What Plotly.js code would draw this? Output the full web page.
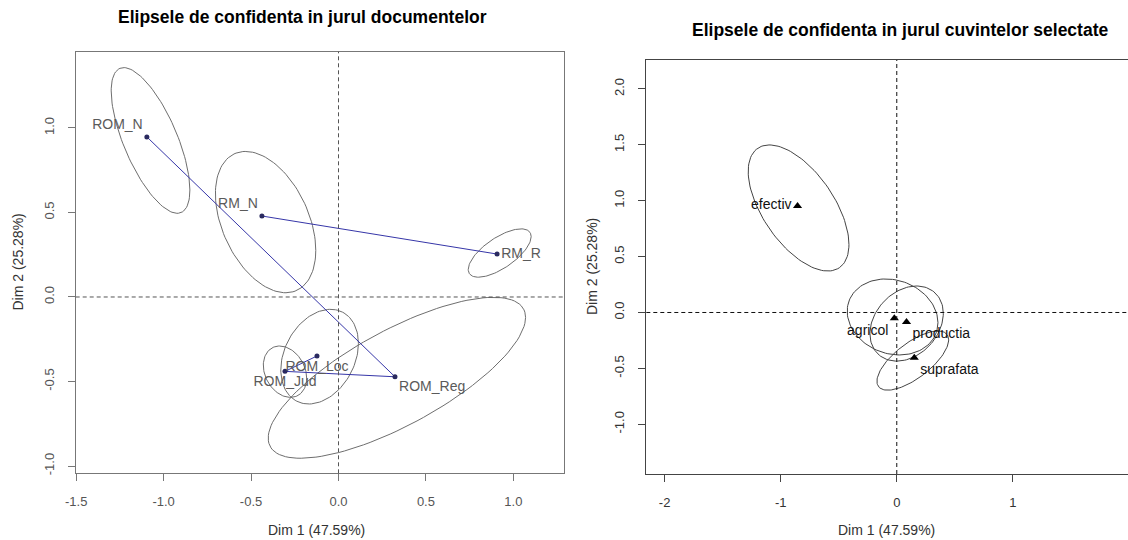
<!DOCTYPE html>
<html>
<head>
<meta charset="utf-8">
<script src="https://cdn.plot.ly/plotly-3.0.1.min.js"></script>
<style>html,body{margin:0;padding:0;background:#fff;}#chart{width:1128px;height:540px;}</style>
</head>
<body>
<div id="chart"></div>
<script>
// ---- Left panel: documents ----
const docLabels = ['ROM_N', 'RM_N', 'RM_R', 'ROM_Loc', 'ROM_Jud', 'ROM_Reg'];
const docX = [-1.096, -0.438, 0.907, -0.123, -0.306, 0.323];
const docY = [0.947, 0.479, 0.254, -0.349, -0.440, -0.472];
// confidence ellipses: centre, half horizontal extent, half vertical extent, correlation
const docEllCx = [-1.075, -0.417, 0.922, -0.108, -0.306, 0.334];
const docEllCy = [0.926, 0.443, 0.260, -0.353, -0.442, -0.478];
const docEllA = [0.225, 0.287, 0.180, 0.222, 0.124, 0.736];
const docEllB = [0.431, 0.418, 0.143, 0.280, 0.152, 0.476];
const docEllRho = [-0.68, -0.40, 0.68, 0.28, -0.25, 0.75];
const docChain1 = ['ROM_Loc', 'ROM_Jud', 'ROM_Reg', 'ROM_N'];
const docChain2 = ['RM_N', 'RM_R'];
const docTicksX = [-1.5, -1.0, -0.5, 0.0, 0.5, 1.0];
const docTicksY = [-1.0, -0.5, 0.0, 0.5, 1.0];

// ---- Right panel: words ----
const wordLabels = ['efectiv', 'agricol', 'productia', 'suprafata'];
const wordX = [-0.855, -0.021, 0.084, 0.151];
const wordY = [0.953, -0.052, -0.085, -0.404];
const wordEllCx = [-0.846, -0.036, 0.085, 0.138];
const wordEllCy = [0.935, -0.040, -0.099, -0.430];
const wordEllA = [0.434, 0.391, 0.316, 0.309];
const wordEllB = [0.564, 0.340, 0.336, 0.265];
const wordEllRho = [-0.58, -0.15, 0.27, 0.70];
const wordTicksX = [-2, -1, 0, 1];
const wordTicksY = [-1.0, -0.5, 0.0, 0.5, 1.0, 1.5, 2.0];

const FONT = 'Liberation Sans, Arial, sans-serif';

function ellipsePath(cx, cy, A, B, rho) {
  const xs = [], ys = [];
  for (let i = 0; i < cx.length; i++) {
    const phi = Math.acos(rho[i]);
    for (let k = 0; k <= 120; k++) {
      const t = 2 * Math.PI * k / 120;
      xs.push(cx[i] + A[i] * Math.cos(t));
      ys.push(cy[i] + B[i] * Math.cos(t - phi));
    }
    xs.push(null); ys.push(null);
  }
  return {xs, ys};
}

function chain(names) {
  return {
    x: names.map(n => docX[docLabels.indexOf(n)]),
    y: names.map(n => docY[docLabels.indexOf(n)])
  };
}

const e1 = ellipsePath(docEllCx, docEllCy, docEllA, docEllB, docEllRho);
const e2 = ellipsePath(wordEllCx, wordEllCy, wordEllA, wordEllB, wordEllRho);
const c1 = chain(docChain1), c2 = chain(docChain2);

const docPos = ['top left', 'top left', 'middle right', 'bottom center', 'bottom center', 'bottom right'];
const wordPos = ['middle left', 'bottom left', 'bottom right', 'bottom right'];

const traces = [
  {x: e1.xs, y: e1.ys, xaxis: 'x', yaxis: 'y', mode: 'lines', line: {color: '#6e6e6e', width: 1}, hoverinfo: 'skip'},
  {x: c1.x, y: c1.y, xaxis: 'x', yaxis: 'y', mode: 'lines', line: {color: '#3636a8', width: 1}},
  {x: c2.x, y: c2.y, xaxis: 'x', yaxis: 'y', mode: 'lines', line: {color: '#3636a8', width: 1}},
  {x: docX, y: docY, text: docLabels, xaxis: 'x', yaxis: 'y', mode: 'markers+text',
   textposition: docPos, marker: {color: '#2a2a60', size: 5},
   textfont: {family: FONT, size: 14, color: '#5a5a5a'}},
  {x: e2.xs, y: e2.ys, xaxis: 'x2', yaxis: 'y2', mode: 'lines', line: {color: '#444', width: 1}, hoverinfo: 'skip'},
  {x: wordX, y: wordY, text: wordLabels, xaxis: 'x2', yaxis: 'y2', mode: 'markers+text',
   textposition: wordPos, marker: {color: '#000', size: 8, symbol: 'triangle-up'},
   textfont: {family: FONT, size: 14, color: '#111'}}
];

const W = 1128, H = 540;
function px(a) { return a / W; }
function py(b) { return (H - b) / H; }

const axCommon = {
  showgrid: false, zeroline: false, showline: true, mirror: true,
  ticks: 'outside', ticklen: 7, tickwidth: 1, ticklabelstandoff: 9,
  tickfont: {family: FONT, size: 13}
};

const layout = {
  width: W, height: H, margin: {l: 0, r: 0, t: 0, b: 0},
  paper_bgcolor: '#fff', plot_bgcolor: '#fff', showlegend: false,
  font: {family: FONT},
  xaxis: Object.assign({}, axCommon, {
    domain: [px(75.7), px(563.7)], range: [-1.503, 1.288], anchor: 'y',
    tickvals: docTicksX, ticktext: docTicksX.map(v => v.toFixed(1)),
    linecolor: '#777', tickcolor: '#777', tickfont: {family: FONT, size: 13, color: '#555'}
  }),
  yaxis: Object.assign({}, axCommon, {
    domain: [py(473.3), py(51.7)], range: [-1.043, 1.451], anchor: 'x',
    tickvals: docTicksY, ticktext: docTicksY.map(v => v.toFixed(1)), tickangle: -90,
    linecolor: '#777', tickcolor: '#777', tickfont: {family: FONT, size: 13, color: '#555'}
  }),
  xaxis2: Object.assign({}, axCommon, {
    domain: [px(646.3), px(1127.5)], range: [-2.158, 1.988], anchor: 'y2',
    tickvals: wordTicksX, ticktext: wordTicksX.map(v => String(v)),
    linecolor: '#444', tickcolor: '#444', tickfont: {family: FONT, size: 13, color: '#333'}
  }),
  yaxis2: Object.assign({}, axCommon, {
    domain: [py(474), py(60)], range: [-1.445, 2.259], anchor: 'x2',
    tickvals: wordTicksY, ticktext: wordTicksY.map(v => v.toFixed(1)), tickangle: -90,
    linecolor: '#444', tickcolor: '#444', tickfont: {family: FONT, size: 13, color: '#333'}
  }),
  shapes: [
    {type: 'line', xref: 'x', yref: 'y domain', x0: 0, x1: 0, y0: 0, y1: 1, line: {color: '#555', width: 1, dash: '4px,3px'}},
    {type: 'line', xref: 'x domain', yref: 'y', x0: 0, x1: 1, y0: 0, y1: 0, line: {color: '#555', width: 1, dash: '4px,3px'}},
    {type: 'line', xref: 'x2', yref: 'y2 domain', x0: 0, x1: 0, y0: 0, y1: 1, line: {color: '#111', width: 1, dash: '4px,3px'}},
    {type: 'line', xref: 'x2 domain', yref: 'y2', x0: 0, x1: 1, y0: 0, y1: 0, line: {color: '#111', width: 1, dash: '4px,3px'}}
  ],
  annotations: [
    {text: '<b>Elipsele de confidenta in jurul documentelor</b>', xref: 'paper', yref: 'paper',
     x: px(302), y: py(17), xanchor: 'center', yanchor: 'middle', showarrow: false,
     font: {family: FONT, size: 17.5, color: '#000'}},
    {text: '<b>Elipsele de confidenta in jurul cuvintelor selectate</b>', xref: 'paper', yref: 'paper',
     x: px(900), y: py(30), xanchor: 'center', yanchor: 'middle', showarrow: false,
     font: {family: FONT, size: 17.5, color: '#000'}},
    {text: 'Dim 1 (47.59%)', xref: 'paper', yref: 'paper', x: px(316), y: py(530),
     xanchor: 'center', yanchor: 'middle', showarrow: false, font: {family: FONT, size: 14, color: '#333'}},
    {text: 'Dim 2 (25.28%)', xref: 'paper', yref: 'paper', x: px(17), y: py(262.5), textangle: -90,
     xanchor: 'center', yanchor: 'middle', showarrow: false, font: {family: FONT, size: 14, color: '#333'}},
    {text: 'Dim 1 (47.59%)', xref: 'paper', yref: 'paper', x: px(886), y: py(530),
     xanchor: 'center', yanchor: 'middle', showarrow: false, font: {family: FONT, size: 14, color: '#333'}},
    {text: 'Dim 2 (25.28%)', xref: 'paper', yref: 'paper', x: px(592), y: py(267), textangle: -90,
     xanchor: 'center', yanchor: 'middle', showarrow: false, font: {family: FONT, size: 14, color: '#333'}}
  ]
};

Plotly.newPlot('chart', traces, layout, {staticPlot: true, displayModeBar: false});
</script>
</body>
</html>
